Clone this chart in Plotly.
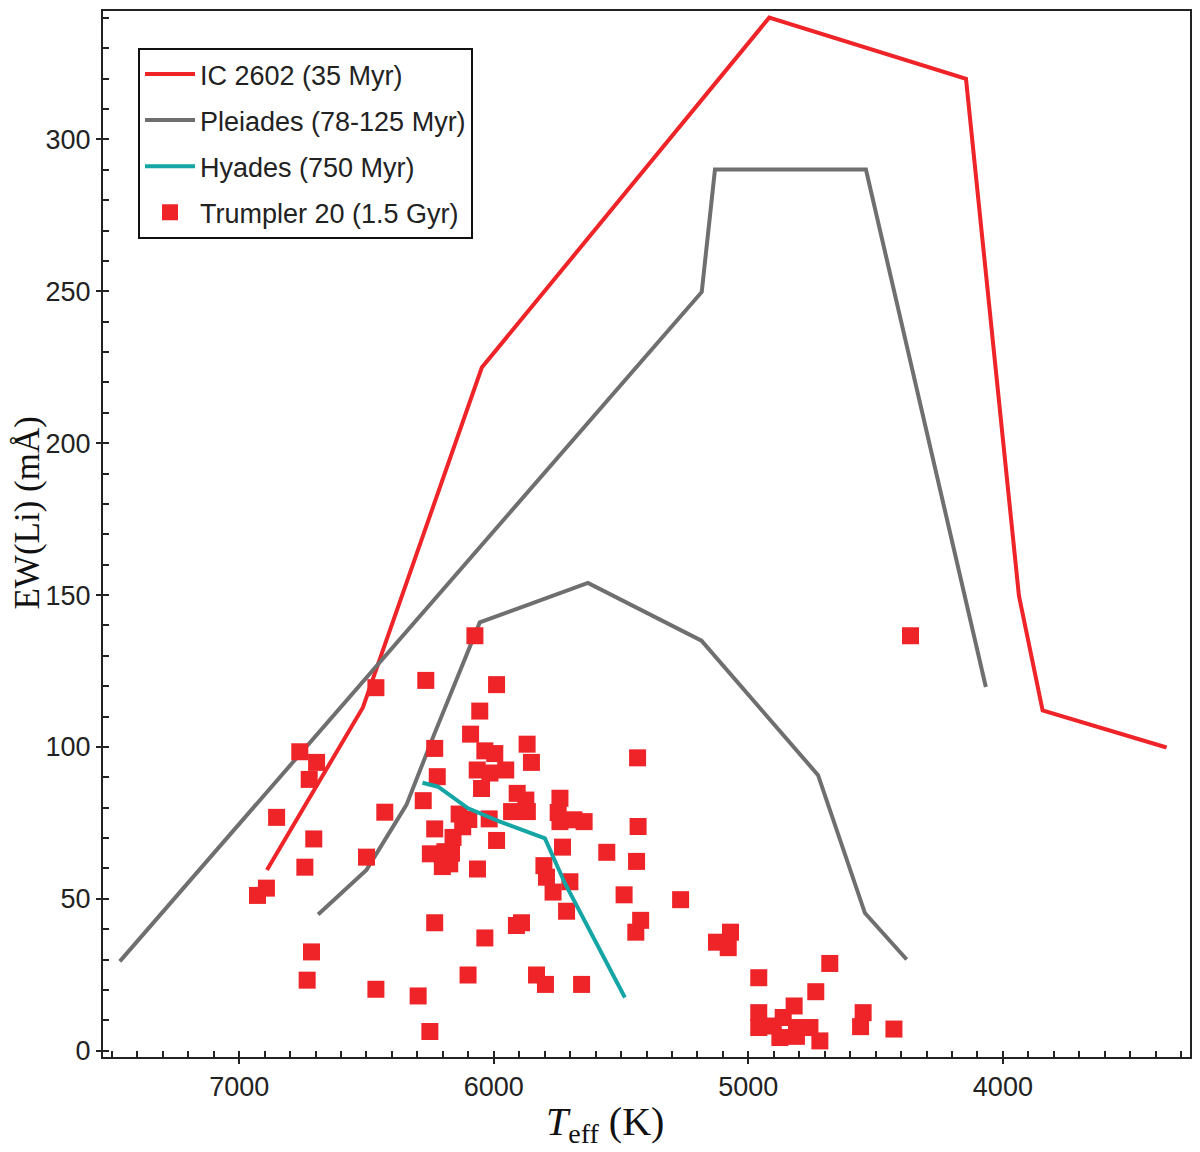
import plotly.graph_objects as go

# lithium equivalent width vs effective temperature

ic2602_teff = [6891, 6514, 6047, 4918, 4145, 3937, 3844, 3357]
ic2602_ew = [59.5, 113.0, 224.9, 340.1, 320.0, 149.8, 112.0, 99.8]

pleiades_hi_teff = [7469, 5183, 5131, 4538, 4067]
pleiades_hi_ew = [29.4, 249.8, 290.1, 290.1, 119.7]

pleiades_lo_teff = [6690, 6500, 6343, 6238, 6055, 5630, 5184, 4726, 4542, 4378]
pleiades_lo_ew = [44.8, 59.5, 80.9, 103.3, 141.0, 154.0, 135.0, 90.7, 45.3, 30.0]

hyades_teff = [6280, 6219, 6101, 6055, 5976, 5799, 5721, 5485]
hyades_ew = [88.2, 86.9, 79.8, 78.1, 75.4, 69.9, 55.2, 17.5]

t20_teff = [6074, 6267, 6463, 5989, 6055, 6091, 6232, 6762, 6696, 6725,
            6222, 6853, 6428, 6277, 6707, 6500, 6742, 6893, 6928, 6232,
            6716, 6733, 6463, 6297, 6251, 6101, 6035, 6064, 6232,
            6035, 5996, 5869, 5852, 5435, 6065, 6015, 5953, 6048, 5908,
            5874, 5740, 5930, 5868, 5747, 6136, 6098, 6018, 5740, 5685,
            5645, 5433, 6122, 5989, 6160, 5730, 5556, 5439, 6249, 6192,
            6166, 6202, 6173, 5803, 5793, 5701, 5767, 5488, 5266, 5714,
            5891, 5911, 5423, 5442, 5832, 5797, 5655,
            4363, 5070, 5125, 5079, 4680, 4959, 4735, 4820, 4959, 4549,
            4959, 4863, 4902, 4811, 4758, 4876, 4811, 4719, 4559, 4428]
t20_ew = [136.6, 121.9, 119.5, 120.5, 111.8, 104.2, 99.5, 98.4, 94.9, 89.3,
          90.2, 76.8, 78.5, 82.3, 69.7, 63.7, 60.4, 53.5, 51.1, 42.1,
          32.5, 23.2, 20.2, 18.0, 6.3, 24.9, 37.1, 59.8, 73.0,
          98.7, 97.8, 100.9, 94.9, 96.4, 92.4, 91.4, 92.4, 86.3, 84.7,
          82.5, 83.1, 78.7, 78.7, 78.4, 77.9, 76.1, 76.3, 75.4, 76.0,
          75.4, 73.8, 73.7, 69.2, 70.2, 67.0, 65.3, 62.3, 64.8, 65.5,
          65.0, 60.6, 61.5, 60.9, 57.1, 55.6, 52.2, 51.3, 49.7, 45.9,
          42.1, 41.2, 42.9, 39.0, 24.9, 21.8, 21.8,
          136.6, 39.0, 35.7, 33.9, 28.7, 24.0, 19.4, 14.7, 12.5, 12.5,
          7.6, 10.9, 8.1, 7.6, 7.6, 4.3, 4.7, 3.2, 7.9, 7.1]

RED = '#ee2428'
GRAY = '#6f6f6f'
TEAL = '#16a5a5'

fig = go.Figure()
fig.add_trace(go.Scatter(x=ic2602_teff, y=ic2602_ew, mode='lines',
                         name='IC 2602 (35 Myr)', legendgroup='ic', legendrank=1,
                         line=dict(color=RED, width=4)))
fig.add_trace(go.Scatter(x=pleiades_hi_teff, y=pleiades_hi_ew, mode='lines',
                         name='Pleiades (78-125 Myr)', legendgroup='pl', legendrank=2,
                         line=dict(color=GRAY, width=4)))
fig.add_trace(go.Scatter(x=pleiades_lo_teff, y=pleiades_lo_ew, mode='lines',
                         name='Pleiades (78-125 Myr)', legendgroup='pl', legendrank=2,
                         showlegend=False, line=dict(color=GRAY, width=4)))
fig.add_trace(go.Scatter(x=t20_teff, y=t20_ew, mode='markers',
                         name='Trumpler 20 (1.5 Gyr)', legendgroup='t20', legendrank=4,
                         marker=dict(symbol='square', size=17, color=RED)))
fig.add_trace(go.Scatter(x=hyades_teff, y=hyades_ew, mode='lines',
                         name='Hyades (750 Myr)', legendgroup='hy', legendrank=3,
                         line=dict(color=TEAL, width=4)))

axis_common = dict(
    showline=True, linecolor='#222', linewidth=2, mirror=True,
    showgrid=False, zeroline=False,
    ticks='outside', ticklen=5, tickwidth=2, tickcolor='#222',
    tickfont=dict(family='Liberation Sans, Arial', size=27, color='#222'),
)

fig.update_xaxes(range=[7535, 3265], tick0=0, dtick=1000,
                 minor=dict(ticks='inside', ticklen=6, tickwidth=2, tickcolor='#222', dtick=100),
                 **axis_common)
fig.update_yaxes(range=[-2.1, 342.3], tick0=0, dtick=50,
                 minor=dict(ticks='inside', ticklen=6, tickwidth=2, tickcolor='#222', dtick=10),
                 **axis_common)

fig.update_layout(
    width=1200, height=1152,
    margin=dict(l=95, r=18, t=1, b=103),
    paper_bgcolor='white', plot_bgcolor='white',
    showlegend=True,
    legend=dict(x=0.0322, y=0.9647, xanchor='left', yanchor='top',
                bgcolor='white', bordercolor='#111', borderwidth=2,
                font=dict(family='Liberation Sans, Arial', size=27, color='#222'),
                traceorder='grouped', tracegroupgap=8, itemwidth=50),
    annotations=[
        dict(text='EW(Li) (mÅ)', xref='paper', yref='paper', x=-0.0695, y=0.52,
             xanchor='center', yanchor='middle', textangle=-90, showarrow=False,
             font=dict(family='Liberation Serif, Times New Roman', size=35, color='#111')),
        dict(text='<i>T</i><sub>eff</sub> (K)', xref='paper', yref='paper', x=0.4618, y=-0.0639,
             xanchor='center', yanchor='middle', showarrow=False,
             font=dict(family='Liberation Serif, Times New Roman', size=40, color='#111')),
    ],
)

fig.write_html("out.html")
